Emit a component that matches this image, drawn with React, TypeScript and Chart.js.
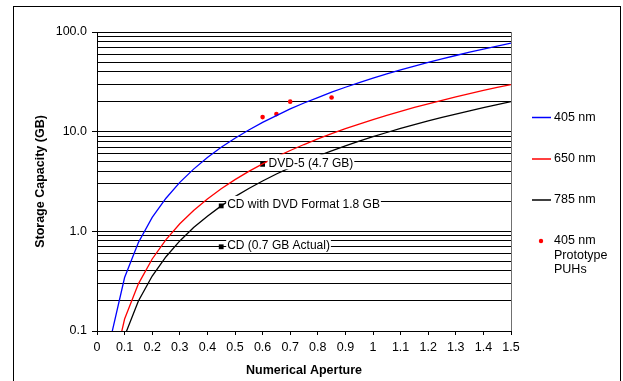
import React, { useEffect, useRef } from "react";
import { Chart, registerables } from "chart.js";

Chart.register(...registerables);

// ---- Data ----
const NA = [
  0.05, 0.1, 0.15, 0.2, 0.25, 0.3, 0.35, 0.4, 0.45, 0.5,
  0.55, 0.6, 0.65, 0.7, 0.75, 0.8, 0.85, 0.9, 0.95, 1.0,
  1.05, 1.1, 1.15, 1.2, 1.25, 1.3, 1.35, 1.4, 1.45, 1.5,
];
const CAP_405 = [
  0.086, 0.344, 0.774, 1.38, 2.15, 3.1, 4.21, 5.5, 6.97, 8.6,
  10.4, 12.4, 14.5, 16.9, 19.4, 22.0, 24.9, 27.9, 31.0, 34.4,
  37.9, 41.6, 45.5, 49.5, 53.8, 58.1, 62.7, 67.4, 72.3, 77.4,
];
const CAP_650 = [
  0.033, 0.132, 0.297, 0.528, 0.825, 1.19, 1.62, 2.11, 2.67, 3.3,
  3.99, 4.75, 5.58, 6.47, 7.43, 8.45, 9.54, 10.7, 11.9, 13.2,
  14.6, 16.0, 17.5, 19.0, 20.6, 22.3, 24.1, 25.9, 27.8, 29.7,
];
const CAP_785 = [
  0.022, 0.089, 0.2, 0.356, 0.556, 0.801, 1.09, 1.42, 1.8, 2.23,
  2.69, 3.2, 3.76, 4.36, 5.01, 5.7, 6.43, 7.21, 8.03, 8.9,
  9.81, 10.8, 11.8, 12.8, 13.9, 15.0, 16.2, 17.4, 18.7, 20.0,
];
const PROTO_NA = [0.6, 0.65, 0.7, 0.85];
const PROTO_CAP = [14, 15, 20, 22];

const DISC_NA = [0.6, 0.45, 0.45];
const DISC_CAP = [4.7, 1.8, 0.7];
const DISC_LABELS = ["DVD-5 (4.7 GB)", "CD with DVD Format 1.8 GB", "CD (0.7 GB Actual)"];

const X_TICKS = [0, 0.1, 0.2, 0.3, 0.4, 0.5, 0.6, 0.7, 0.8, 0.9, 1, 1.1, 1.2, 1.3, 1.4, 1.5];
const X_TICK_LABELS = ["0", "0.1", "0.2", "0.3", "0.4", "0.5", "0.6", "0.7", "0.8", "0.9", "1", "1.1", "1.2", "1.3", "1.4", "1.5"];
const Y_GRID = [
  0.1, 0.2, 0.3, 0.4, 0.5, 0.6, 0.7, 0.8, 0.9,
  1, 2, 3, 4, 5, 6, 7, 8, 9,
  10, 20, 30, 40, 50, 60, 70, 80, 90, 100,
];
const Y_MAJOR = [0.1, 1, 10, 100];
const Y_MAJOR_LABELS = ["0.1", "1.0", "10.0", "100.0"];

const SERIES_NAMES = ["405 nm", "650 nm", "785 nm"];
const SERIES_COLORS = ["#0000ff", "#ff0000", "#000000"];
const PROTO_NAME_LINES = ["405 nm", "Prototype", "PUHs"];

const X_TITLE = "Numerical Aperture";
const Y_TITLE = "Storage Capacity (GB)";

const FONT = '"Liberation Sans", Arial, sans-serif';

const decorPlugin = {
  id: "decor",
  afterDatasetsDraw(chart: any) {
    const ctx = chart.ctx;
    const xs = chart.scales.x;
    const ys = chart.scales.y;
    ctx.save();
    ctx.font = `12px ${FONT}`;
    ctx.textBaseline = "middle";
    ctx.textAlign = "left";
    DISC_LABELS.forEach((t, i) => {
      const px = xs.getPixelForValue(DISC_NA[i]);
      const py = ys.getPixelForValue(DISC_CAP[i]);
      const tx = px + 6;
      const ty = py - 2;
      const w = ctx.measureText(t).width;
      ctx.fillStyle = "#ffffff";
      ctx.fillRect(tx - 1, ty - 8, w + 2, 15);
      ctx.fillStyle = "#000000";
      ctx.fillText(t, tx, ty + 1);
    });
    ctx.restore();
  },
  afterDraw(chart: any) {
    const ctx = chart.ctx;
    const area = chart.chartArea;
    ctx.save();
    // right edge of plot area
    ctx.strokeStyle = "#707070";
    ctx.lineWidth = 1;
    ctx.beginPath();
    ctx.moveTo(Math.round(area.right) + 0.5, area.top);
    ctx.lineTo(Math.round(area.right) + 0.5, area.bottom);
    ctx.stroke();
    // outer frame
    ctx.strokeStyle = "#000000";
    ctx.strokeRect(13.5, 6.5, 607, 390);

    // axis titles
    ctx.fillStyle = "#000000";
    ctx.font = `bold 12.5px ${FONT}`;
    ctx.textAlign = "center";
    ctx.textBaseline = "middle";
    ctx.fillText(X_TITLE, (area.left + area.right) / 2, 371);
    ctx.save();
    ctx.translate(41, (area.top + area.bottom) / 2);
    ctx.rotate(-Math.PI / 2);
    ctx.fillText(Y_TITLE, 0, 0);
    ctx.restore();

    // legend
    ctx.font = `12.5px ${FONT}`;
    ctx.textAlign = "left";
    const legendY = [117.5, 159, 200];
    SERIES_NAMES.forEach((name, i) => {
      ctx.strokeStyle = SERIES_COLORS[i];
      ctx.lineWidth = 1.5;
      ctx.beginPath();
      ctx.moveTo(532, legendY[i]);
      ctx.lineTo(551, legendY[i]);
      ctx.stroke();
      ctx.fillStyle = "#000000";
      ctx.fillText(name, 554, legendY[i]);
    });
    ctx.fillStyle = "#ff0000";
    ctx.beginPath();
    ctx.arc(541, 241, 2.2, 0, Math.PI * 2);
    ctx.fill();
    ctx.fillStyle = "#000000";
    PROTO_NAME_LINES.forEach((l, i) => ctx.fillText(l, 554, 241 + i * 14.3));
    ctx.restore();
  },
};

export default function App() {
  const ref = useRef<HTMLCanvasElement | null>(null);
  useEffect(() => {
    document.body.style.margin = "0";
    const canvas = ref.current;
    if (!canvas) return;
    const toPts = (ys: number[]) => NA.map((x, i) => ({ x, y: ys[i] }));
    const lineDs = (label: string, ys: number[], color: string) => ({
      label,
      data: toPts(ys),
      borderColor: color,
      backgroundColor: color,
      borderWidth: 1.3,
      showLine: true,
      pointRadius: 0,
      tension: 0,
    });
    const chart = new Chart(canvas, {
      type: "scatter",
      data: {
        datasets: [
          lineDs(SERIES_NAMES[0], CAP_405, SERIES_COLORS[0]),
          lineDs(SERIES_NAMES[1], CAP_650, SERIES_COLORS[1]),
          lineDs(SERIES_NAMES[2], CAP_785, SERIES_COLORS[2]),
          {
            label: "405 nm Prototype PUHs",
            data: PROTO_NA.map((x, i) => ({ x, y: PROTO_CAP[i] })),
            backgroundColor: "#ff0000",
            borderWidth: 0,
            pointRadius: 2.3,
            showLine: false,
          },
          {
            label: "Discs",
            data: DISC_NA.map((x, i) => ({ x, y: DISC_CAP[i] })),
            backgroundColor: "#000000",
            borderWidth: 0,
            pointStyle: "rect",
            pointRadius: 3.4,
            showLine: false,
          },
        ] as any,
      },
      options: {
        animation: false,
        responsive: false,
        devicePixelRatio: 1,
        layout: { padding: { left: 0, top: 32, right: 112, bottom: 0 } },
        plugins: { legend: { display: false }, tooltip: { enabled: false } },
        scales: {
          x: {
            type: "linear",
            min: 0,
            max: 1.5,
            afterFit: (s: any) => {
              s.height = 50;
            },
            afterBuildTicks: (s: any) => {
              s.ticks = X_TICKS.map((v) => ({ value: v }));
            },
            ticks: {
              autoSkip: false,
              maxRotation: 0,
              padding: 5,
              color: "#000000",
              font: { family: FONT, size: 12.5 },
              callback: (v: any) => {
                const i = X_TICKS.findIndex((t) => Math.abs(t - Number(v)) < 1e-9);
                return i >= 0 ? X_TICK_LABELS[i] : "";
              },
            },
            grid: { drawOnChartArea: false, drawTicks: true, tickLength: 4, color: "#000000" },
            border: { display: true, color: "#000000", width: 1 },
          },
          y: {
            type: "logarithmic",
            min: 0.1,
            max: 100,
            afterFit: (s: any) => {
              s.width = 97;
            },
            afterBuildTicks: (s: any) => {
              s.ticks = Y_GRID.map((v) => ({ value: v, major: Y_MAJOR.includes(v) }));
            },
            ticks: {
              autoSkip: false,
              padding: 5,
              color: "#000000",
              font: { family: FONT, size: 12.5 },
              callback: (v: any) => {
                const i = Y_MAJOR.findIndex((t) => Math.abs(t - Number(v)) < 1e-9);
                return i >= 0 ? Y_MAJOR_LABELS[i] : "";
              },
            },
            grid: {
              color: "#000000",
              lineWidth: 1,
              drawTicks: true,
              tickLength: 5,
              tickColor: (c: any) =>
                c.tick && Y_MAJOR.some((t) => Math.abs(t - c.tick.value) < 1e-9) ? "#000000" : "rgba(0,0,0,0)",
            },
            border: { display: true, color: "#000000", width: 1 },
          },
        },
      } as any,
      plugins: [decorPlugin],
    });
    return () => chart.destroy();
  }, []);
  return (
    <div style={{ position: "fixed", left: 0, top: 0, width: 623, height: 381, background: "#fff" }}>
      <canvas ref={ref} width={623} height={381} style={{ width: 623, height: 381, display: "block" }} />
    </div>
  );
}
